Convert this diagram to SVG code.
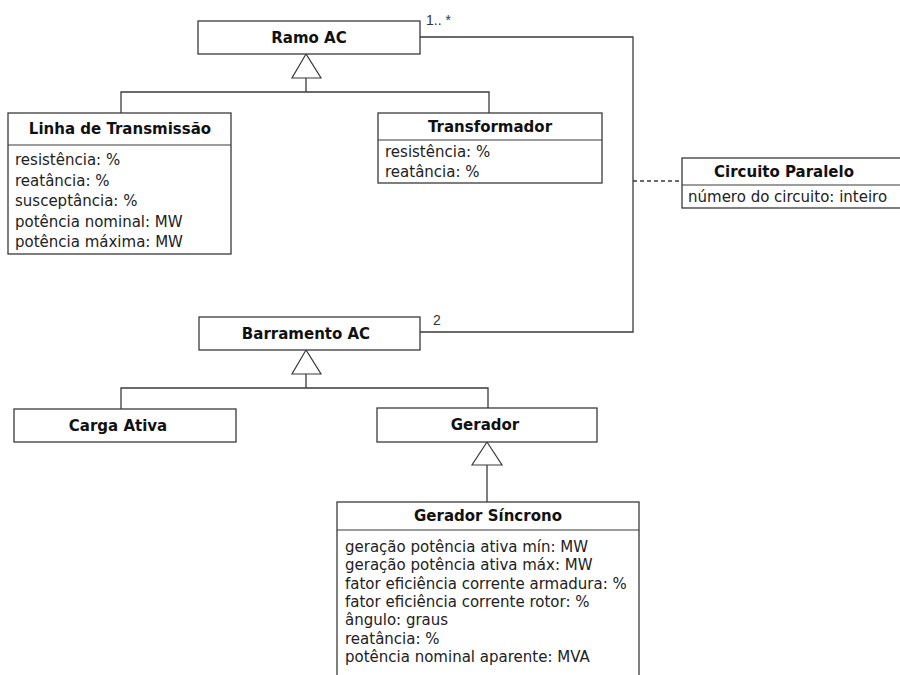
<svg xmlns="http://www.w3.org/2000/svg" width="900" height="675" viewBox="0 0 900 675">
<style>
.box{fill:#fff;stroke:#3a3a3a;stroke-width:1.3}
.sep{stroke:#3a3a3a;stroke-width:1.2}
.ln{fill:none;stroke:#3a3a3a;stroke-width:1.3}
.tri{fill:#fff;stroke:#3a3a3a;stroke-width:1.2}
.t{font-family:"DejaVu Sans",Verdana,sans-serif;font-weight:bold;font-size:15px;fill:#111;text-anchor:middle}
.a{font-family:"DejaVu Sans",Verdana,sans-serif;font-size:15px;fill:#222}
.a2{font-family:"DejaVu Sans",Verdana,sans-serif;font-size:15px;fill:#222}
.m{font-family:"Liberation Sans",Arial,sans-serif;font-size:14px;fill:#333}
</style>
<rect width="900" height="675" fill="#fff"/>
<g id="connectors">
<polyline class="ln" points="306,78 306,92"/>
<polyline class="ln" points="121,113 121,92 489,92 489,113"/>
<polyline class="ln" points="420,37 633,37 633,332 420,332"/>
<line class="ln" x1="633" y1="181" x2="682" y2="181" stroke-dasharray="4,3"/>
<polyline class="ln" points="306,374 306,388"/>
<polyline class="ln" points="121,409 121,388 488,388 488,408"/>
<polyline class="ln" points="487,465 487,502"/>
<polygon class="tri" points="306,54 292,78 321,78"/>
<polygon class="tri" points="306,350 292,374 321,374"/>
<polygon class="tri" points="487,442 472,465 502,465"/>
<text class="m" x="426" y="25" font-size="13">1.. *</text>
<text class="m" x="433" y="325">2</text>
</g>
<g id="ramo-ac">
<rect class="box" x="198" y="21" width="222" height="33"/>
<text class="t" x="309" y="43">Ramo AC</text>
</g>
<g id="linha-transmissao">
<rect class="box" x="8" y="113" width="223" height="141"/>
<line class="sep" x1="8" y1="145" x2="231" y2="145"/>
<text class="t" x="120" y="134">Linha de Transmissão</text>
<text class="a" x="15" y="165">resistência: %</text>
<text class="a" x="15" y="185.5">reatância: %</text>
<text class="a" x="15" y="206">susceptância: %</text>
<text class="a" x="15" y="226.5">potência nominal: MW</text>
<text class="a" x="15" y="247">potência máxima: MW</text>
</g>
<g id="transformador">
<rect class="box" x="378" y="113" width="224" height="70"/>
<line class="sep" x1="378" y1="140" x2="602" y2="140"/>
<text class="t" x="490" y="132">Transformador</text>
<text class="a" x="385" y="157">resistência: %</text>
<text class="a" x="385" y="177">reatância: %</text>
</g>
<g id="circuito-paralelo">
<rect class="box" x="682" y="158" width="230" height="50"/>
<line class="sep" x1="682" y1="185" x2="900" y2="185"/>
<text class="t" x="784" y="177">Circuito Paralelo</text>
<text class="a" x="688" y="202" font-size="14.4">número do circuito: inteiro</text>
</g>
<g id="barramento-ac">
<rect class="box" x="199" y="317" width="221" height="33"/>
<text class="t" x="306" y="339">Barramento AC</text>
</g>
<g id="carga-ativa">
<rect class="box" x="14" y="409" width="222" height="33"/>
<text class="t" x="118" y="431">Carga Ativa</text>
</g>
<g id="gerador">
<rect class="box" x="377" y="408" width="220" height="34"/>
<text class="t" x="485" y="430">Gerador</text>
</g>
<g id="gerador-sincrono">
<rect class="box" x="337" y="502" width="302" height="190"/>
<line class="sep" x1="337" y1="530" x2="639" y2="530"/>
<text class="t" x="488" y="521">Gerador Síncrono</text>
<text class="a2" x="345" y="552">geração potência ativa mín: MW</text>
<text class="a2" x="345" y="570.3">geração potência ativa máx: MW</text>
<text class="a2" x="345" y="588.6">fator eficiência corrente armadura: %</text>
<text class="a2" x="345" y="606.9">fator eficiência corrente rotor: %</text>
<text class="a2" x="345" y="625.2">ângulo: graus</text>
<text class="a2" x="345" y="643.5">reatância: %</text>
<text class="a2" x="345" y="661.8">potência nominal aparente: MVA</text>
</g>
</svg>
